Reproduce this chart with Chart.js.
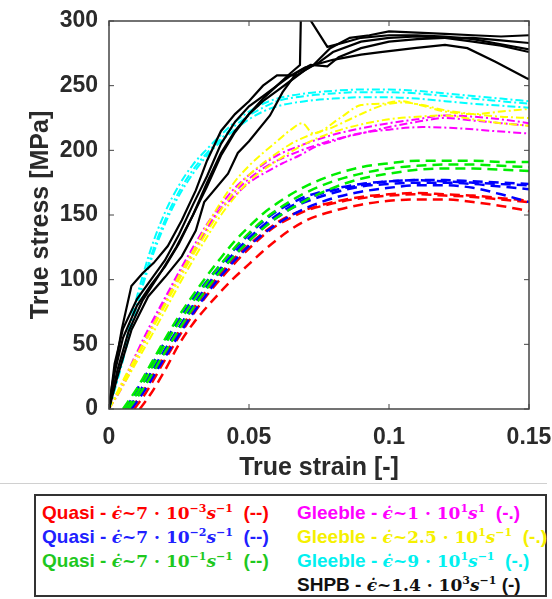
<!DOCTYPE html>
<html>
<head>
<meta charset="utf-8">
<script src="https://cdn.jsdelivr.net/npm/chart.js@4.4.1/dist/chart.umd.min.js"></script>
<style>
  html, body { margin: 0; padding: 0; background: #fff; }
  #wrap { position: absolute; left: 0; top: 0; width: 552px; height: 480px; }
  #sep { position: absolute; left: 0; top: 483px; width: 547px; height: 1px; background: #d0d0d0; }
  #legend { position: absolute; left: 34px; top: 494px; width: 513px; height: 103px; box-sizing: border-box; border: 2px solid #333; }
  .row { position: absolute; white-space: nowrap; height: 24px; line-height: 24px; }
  .s { font-family: "Liberation Sans", Arial, sans-serif; font-weight: bold; font-size: 19px; }
  .m { font-family: "DejaVu Serif", serif; font-weight: bold; font-size: 17px; }
  .m sup { font-size: 11px; vertical-align: 7px; line-height: 0; }
</style>
</head>
<body>
<div id="wrap"><canvas id="c" width="552" height="480"></canvas></div>
<div id="sep"></div>
<div id="legend">
  <div class="row" style="left:6px;top:5px;color:#ff0000"><span class="s">Quasi - </span><span class="m"><i>ϵ̇</i>~7 · 10<sup>−3</sup><i>s</i><sup>−1</sup></span><span class="s">&nbsp; (--)</span></div>
  <div class="row" style="left:6px;top:29px;color:#2020ff"><span class="s">Quasi - </span><span class="m"><i>ϵ̇</i>~7 · 10<sup>−2</sup><i>s</i><sup>−1</sup></span><span class="s">&nbsp; (--)</span></div>
  <div class="row" style="left:6px;top:53px;color:#1ec81e"><span class="s">Quasi - </span><span class="m"><i>ϵ̇</i>~7 · 10<sup>−1</sup><i>s</i><sup>−1</sup></span><span class="s">&nbsp; (--)</span></div>
  <div class="row" style="left:261px;top:5px;color:#ff00ff"><span class="s">Gleeble - </span><span class="m"><i>ϵ̇</i>~1 · 10<sup>1</sup><i>s</i><sup>1</sup></span><span class="s">&nbsp; (-.)</span></div>
  <div class="row" style="left:261px;top:29px;color:#f5f000"><span class="s">Gleeble - </span><span class="m"><i>ϵ̇</i>~2.5 · 10<sup>1</sup><i>s</i><sup>−1</sup></span><span class="s">&nbsp; (-.)</span></div>
  <div class="row" style="left:261px;top:53px;color:#00f0f0"><span class="s">Gleeble - </span><span class="m"><i>ϵ̇</i>~9 · 10<sup>1</sup><i>s</i><sup>−1</sup></span><span class="s">&nbsp; (-.)</span></div>
  <div class="row" style="left:261px;top:77px;color:#111"><span class="s">SHPB - </span><span class="m"><i>ϵ̇</i>~1.4 · 10<sup>3</sup><i>s</i><sup>−1</sup></span><span class="s"> (-)</span></div>
</div>
<script>
// ---------- tick values ----------
const xTicks = [0, 0.05, 0.1, 0.15];
const yTicks = [0, 50, 100, 150, 200, 250, 300];

// ---------- SHPB (black, solid) [strain, stress MPa] ----------
const shpb1 = [[0,0],[0.001,17],[0.0045,61],[0.008,95],[0.012,105],[0.016,113],[0.021,126],[0.026,146],[0.031,169],[0.035,192],[0.04,215],[0.045,228],[0.05,238],[0.055,250],[0.06,258],[0.067,258],[0.073,266],[0.079,279],[0.086,287],[0.093,289],[0.1,292],[0.11,291],[0.12,290],[0.13,289],[0.14,288],[0.15,289]];
const shpb2 = [[0,0],[0.002,35],[0.005,62],[0.01,85],[0.015,100],[0.02,115],[0.025,135],[0.03,158],[0.035,180],[0.04,205],[0.045,222],[0.05,234],[0.055,242],[0.06,250],[0.065,260],[0.0682,266],[0.0686,312],[0.078,280],[0.085,284],[0.09,287],[0.1,289],[0.11,289],[0.12,288],[0.13,286],[0.14,282],[0.15,278]];
const shpb3 = [[0,0],[0.002,28],[0.005,55],[0.01,80],[0.015,96],[0.02,110],[0.025,128],[0.03,150],[0.035,172],[0.04,196],[0.045,214],[0.05,228],[0.055,238],[0.06,246],[0.065,254],[0.07,262],[0.075,268],[0.08,276],[0.09,284],[0.1,287],[0.11,288],[0.12,287],[0.13,284],[0.14,281],[0.15,276]];
const shpb4 = [[0,0],[0.003,25],[0.008,61],[0.014,87],[0.02,102],[0.026,118],[0.031,138],[0.034,160],[0.0425,182],[0.046,198],[0.05,207],[0.0575,227],[0.062,245],[0.067,260],[0.072,266],[0.078,265],[0.082,272],[0.09,279],[0.1,284],[0.11,286],[0.12,287],[0.13,287],[0.14,285],[0.15,283]];
const shpb5 = [[0,0],[0.003,30],[0.007,60],[0.012,84],[0.018,104],[0.024,125],[0.03,150],[0.035,175],[0.04,198],[0.045,215],[0.05,228],[0.055,240],[0.06,250],[0.065,258],[0.07,264],[0.08,270],[0.09,274],[0.097,276],[0.109,279],[0.12,281.5],[0.128,279],[0.138,268.5],[0.149,256],[0.15,255]];

// ---------- Gleeble 9e1 (cyan, dash-dot) ----------
const cyan1 = [[0,0],[0.003,25],[0.006,52],[0.01,87],[0.015,124],[0.02,152],[0.025,173],[0.03,189],[0.035,201],[0.04,212],[0.045,222],[0.05,230],[0.055,236],[0.06,240],[0.07,244],[0.08,246],[0.09,247],[0.1,247],[0.11,246],[0.12,244],[0.13,242],[0.14,240],[0.15,238]];
const cyan2 = [[0,0],[0.003,23],[0.006,48],[0.01,82],[0.015,118],[0.02,146],[0.025,168],[0.03,185],[0.035,198],[0.04,209],[0.045,219],[0.05,227],[0.055,233],[0.06,238],[0.07,242],[0.08,244],[0.09,245],[0.1,245],[0.11,244],[0.12,242],[0.13,240],[0.14,238],[0.15,236]];
const cyan3 = [[0,0],[0.003,22],[0.006,46],[0.01,80],[0.015,115],[0.02,143],[0.025,165],[0.03,182],[0.035,196],[0.04,207],[0.045,216],[0.05,224],[0.055,230],[0.06,234],[0.07,238],[0.08,240],[0.09,241],[0.1,241],[0.11,240],[0.12,238],[0.13,236],[0.14,234.5],[0.15,233]];

// ---------- Gleeble 2.5e1 (yellow, dash-dot) ----------
const yellow1 = [[0,0],[0.005,22],[0.01,42],[0.015,62],[0.02,82],[0.025,103],[0.03,122],[0.035,142],[0.04,160],[0.045,176],[0.05,188],[0.055,198],[0.06,207],[0.065,216],[0.069,221],[0.073,213],[0.0825,225],[0.09,235],[0.097,236],[0.104,238],[0.111,235],[0.12,230],[0.13,228],[0.14,230],[0.15,232]];
const yellow2 = [[0,0],[0.005,20],[0.01,40],[0.015,60],[0.02,80],[0.025,100],[0.03,119],[0.035,137],[0.04,154],[0.045,169],[0.05,181],[0.0575,194],[0.065,205],[0.072,212],[0.079,217],[0.088,226],[0.098,235],[0.105,237],[0.112,235],[0.12,231],[0.13,228],[0.14,226],[0.15,225]];
const yellow3 = [[0,0],[0.005,18],[0.01,37],[0.015,56],[0.02,76],[0.025,96],[0.03,115],[0.035,133],[0.04,150],[0.045,164],[0.05,176],[0.06,192],[0.07,205],[0.08,214],[0.09,220],[0.1,224],[0.11,226],[0.12,227],[0.13,224],[0.14,221],[0.15,219]];

// ---------- Gleeble 1e1 (magenta, dash-dot) ----------
const magenta1 = [[0,0],[0.005,18],[0.0117,48],[0.018,75],[0.0236,98],[0.03,122],[0.035,140],[0.038,150],[0.045,165],[0.05,175],[0.056,183],[0.062,190],[0.068,196],[0.074,203],[0.08,207],[0.087,212],[0.1,216],[0.112,218],[0.125,217],[0.137,215],[0.15,213]];
const magenta2 = [[0,0],[0.005,20],[0.01,42],[0.015,62],[0.02,82],[0.025,102],[0.03,121],[0.035,139],[0.04,155],[0.045,168],[0.05,178],[0.055,186],[0.06,192],[0.07,201],[0.08,208],[0.09,213],[0.1,218],[0.11,222],[0.12,225],[0.13,223],[0.14,221],[0.15,219]];
const magenta3 = [[0,0],[0.005,21],[0.01,44],[0.015,66],[0.02,86],[0.025,106],[0.03,125],[0.035,143],[0.04,158],[0.045,171],[0.05,181],[0.055,189],[0.06,196],[0.07,205],[0.08,212],[0.09,217],[0.1,221],[0.11,224],[0.12,227],[0.13,226],[0.14,224],[0.15,221]];

// ---------- Quasi 7e-1 (green, dashed) ----------
const green1 = [[0.005,0],[0.01,16],[0.015,35],[0.02,54],[0.025,72],[0.03,88],[0.035,103],[0.04,117],[0.045,130],[0.05,141],[0.055,151],[0.06,159],[0.065,166],[0.07,172],[0.08,181],[0.09,187],[0.1,190],[0.11,192],[0.12,192],[0.13,192],[0.14,191],[0.15,191]];
const green2 = [[0.006,0],[0.01,12],[0.015,31],[0.02,50],[0.025,67],[0.03,83],[0.035,98],[0.04,112],[0.045,125],[0.05,136],[0.055,146],[0.06,154],[0.065,161],[0.07,167],[0.08,176],[0.09,182],[0.1,186],[0.11,188],[0.12,189],[0.13,189],[0.14,188],[0.15,187]];
const green3 = [[0.007,0],[0.012,15],[0.02,44],[0.03,78],[0.04,107],[0.05,130],[0.06,148],[0.07,161],[0.08,171],[0.09,178],[0.1,182],[0.11,185],[0.12,186],[0.13,186],[0.14,185],[0.15,184]];

// ---------- Quasi 7e-2 (blue, dashed) ----------
const blue1 = [[0.006,0],[0.01,15],[0.015,33],[0.02,52],[0.025,69],[0.03,85],[0.035,99],[0.04,112],[0.045,124],[0.05,135],[0.055,145],[0.06,153],[0.065,159],[0.07,164],[0.08,170],[0.09,174],[0.1,176],[0.11,177],[0.12,176],[0.13,175],[0.14,174],[0.15,173]];
const blue2 = [[0.007,0],[0.01,10],[0.015,28],[0.02,46],[0.025,63],[0.03,79],[0.035,94],[0.04,107],[0.045,119],[0.05,130],[0.055,140],[0.06,148],[0.065,155],[0.07,160],[0.08,167],[0.09,172],[0.1,174],[0.11,175],[0.12,175],[0.13,174],[0.14,172],[0.15,170]];
const blue3 = [[0.008,0],[0.012,12],[0.02,40],[0.03,74],[0.04,103],[0.05,126],[0.06,143],[0.07,155],[0.08,163],[0.09,168],[0.1,171],[0.11,173],[0.12,173],[0.13,171],[0.14,166],[0.15,160]];
const blue4 = [[0.007,0],[0.012,17],[0.02,45],[0.03,80],[0.04,109],[0.05,132],[0.06,150],[0.07,162],[0.08,169],[0.09,173],[0.1,176],[0.11,177],[0.12,177],[0.13,176],[0.14,175],[0.15,174]];

// ---------- Quasi 7e-3 (red, dashed) ----------
const red1 = [[0.011,0],[0.015,12],[0.02,30],[0.025,50],[0.03,66],[0.035,79],[0.04,91],[0.044,100],[0.05,112],[0.055,122],[0.06,131],[0.065,139],[0.0706,146],[0.08,153],[0.09,158],[0.1,161],[0.11,162],[0.12,162],[0.13,160],[0.14,157],[0.15,153]];
const red2 = [[0.009,0],[0.013,12],[0.02,38],[0.025,56],[0.03,73],[0.035,88],[0.04,101],[0.045,113],[0.05,124],[0.055,134],[0.06,142],[0.065,148],[0.07,153],[0.08,159],[0.09,163],[0.1,165],[0.11,166],[0.12,165],[0.13,164],[0.14,162],[0.15,160]];
const red3 = [[0.008,0],[0.012,13],[0.02,42],[0.025,60],[0.03,77],[0.035,92],[0.04,105],[0.045,117],[0.05,127],[0.055,136],[0.06,144],[0.065,150],[0.07,154],[0.08,160],[0.09,164],[0.1,166],[0.11,167],[0.12,166],[0.13,165],[0.14,163],[0.15,161]];

// ---------- styles ----------
const styles = {
  shpb:    { color: '#000000', dash: [],           width: 2.2, tension: 0 },
  cyan:    { color: '#00ffff', dash: [8, 3, 2, 3], width: 2,   tension: 0.3 },
  yellow:  { color: '#ffff00', dash: [8, 3, 2, 3], width: 2,   tension: 0.3 },
  magenta: { color: '#ff00ff', dash: [8, 3, 2, 3], width: 2,   tension: 0.3 },
  green:   { color: '#00ee00', dash: [10, 6],      width: 2.5, tension: 0.3 },
  blue:    { color: '#0000ff', dash: [10, 6],      width: 2.5, tension: 0.3 },
  red:     { color: '#ff0000', dash: [10, 6],      width: 2.5, tension: 0.3 }
};
const groups = [
  ['shpb', [shpb1, shpb2, shpb3, shpb4, shpb5]],
  ['cyan', [cyan1, cyan2, cyan3]],
  ['yellow', [yellow1, yellow2, yellow3]],
  ['magenta', [magenta1, magenta2, magenta3]],
  ['green', [green1, green2, green3]],
  ['blue', [blue1, blue2, blue3, blue4]],
  ['red', [red1, red2, red3]]
];
const datasets = [];
groups.forEach(([key, curves]) => {
  const st = styles[key];
  curves.forEach((c, i) => {
    datasets.push({
      label: key + (i + 1),
      data: c.map(p => ({ x: p[0], y: p[1] })),
      borderColor: st.color,
      borderDash: st.dash,
      borderWidth: st.width,
      pointRadius: 0,
      fill: false,
      tension: st.tension,
      cubicInterpolationMode: st.tension ? 'monotone' : 'default'
    });
  });
});

const frame = {
  id: 'frame',
  afterDatasetsDraw(chart) {
    const { ctx, chartArea: a, scales } = chart;
    ctx.save();
    ctx.strokeStyle = '#444';
    ctx.lineWidth = 1.5;
    ctx.setLineDash([]);
    ctx.strokeRect(a.left, a.top, a.right - a.left, a.bottom - a.top);
    ctx.lineWidth = 1;
    const L = 5;
    yTicks.forEach(v => {
      const y = scales.y.getPixelForValue(v);
      ctx.beginPath();
      ctx.moveTo(a.left, y); ctx.lineTo(a.left + L, y);
      ctx.moveTo(a.right, y); ctx.lineTo(a.right - L, y);
      ctx.stroke();
    });
    xTicks.forEach(v => {
      const x = scales.x.getPixelForValue(v);
      ctx.beginPath();
      ctx.moveTo(x, a.bottom); ctx.lineTo(x, a.bottom - L);
      ctx.moveTo(x, a.top); ctx.lineTo(x, a.top + L);
      ctx.stroke();
    });
    ctx.restore();
  }
};

const tickFont = { family: '"Liberation Sans", Arial, sans-serif', size: 23, weight: 'bold' };
const titleFont = { family: '"Liberation Sans", Arial, sans-serif', size: 25, weight: 'bold', lineHeight: 1.2 };
const textColor = '#2a2a2a';

new Chart(document.getElementById('c'), {
  type: 'line',
  data: { datasets },
  options: {
    responsive: false,
    animation: false,
    devicePixelRatio: 1,
    layout: { padding: { left: 0, right: 23, top: 21, bottom: 0 } },
    plugins: { legend: { display: false }, tooltip: { enabled: false } },
    scales: {
      x: {
        type: 'linear', min: 0, max: 0.15,
        grid: { display: false, drawTicks: false },
        border: { display: false },
        afterBuildTicks: s => { s.ticks = xTicks.map(v => ({ value: v })); },
        afterFit: s => { s.height = 71; s.paddingLeft = 0; s.paddingRight = 0; },
        ticks: { font: tickFont, color: textColor, padding: 15, maxRotation: 0, callback: v => String(v) },
        title: { display: true, text: 'True strain [-]', font: titleFont, color: textColor, padding: { top: 0, bottom: -3 } }
      },
      y: {
        type: 'linear', min: 0, max: 300,
        grid: { display: false, drawTicks: false },
        border: { display: false },
        afterBuildTicks: s => { s.ticks = yTicks.map(v => ({ value: v })); },
        afterFit: s => { s.width = 109; s.paddingTop = 0; s.paddingBottom = 0; },
        ticks: { font: tickFont, color: textColor, padding: 11 },
        title: { display: true, text: 'True stress [MPa]', font: titleFont, color: textColor, padding: { top: 26, bottom: 0 } }
      }
    }
  },
  plugins: [frame]
});
</script>
</body>
</html>
